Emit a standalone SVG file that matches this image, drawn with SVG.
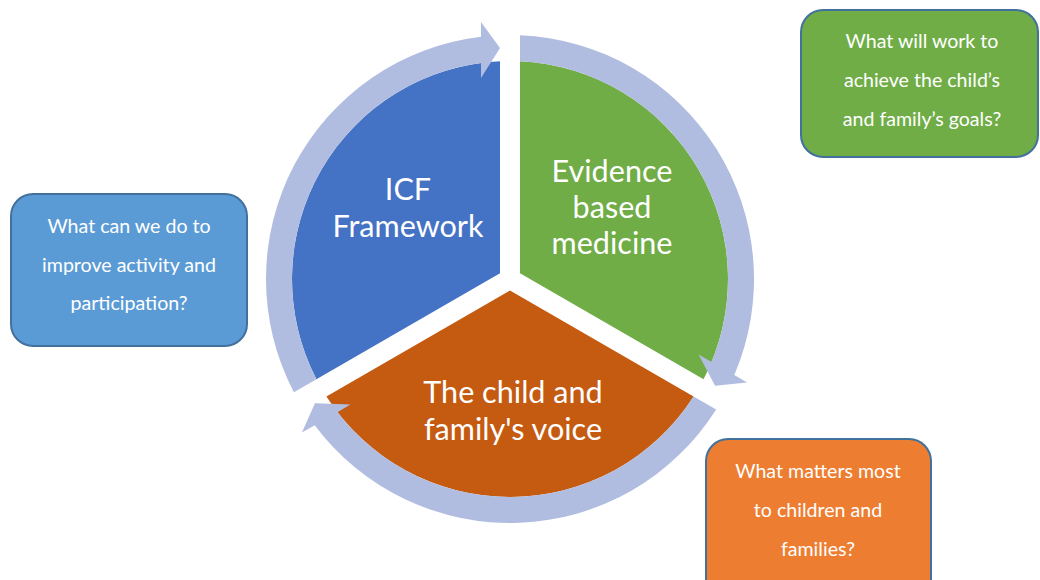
<svg xmlns="http://www.w3.org/2000/svg" width="1040" height="580" viewBox="0 0 1040 580">
<style>
.sec-t{font-family:Lato,"Open Sans",sans-serif;font-size:30.6px;fill:#fff;text-anchor:middle}
.box-t{font-family:Lato,"Open Sans",sans-serif;font-size:19.6px;fill:#fff;text-anchor:middle}
.ring{fill:#B1BDE0}
.box{stroke:#41719C;stroke-width:2}
</style>
<rect width="1040" height="580" fill="#fff"/>
<g id="icf">
<path d="M 500 273.23 L 500 61.23 A 218 218 0 0 0 316.41 379.22 Z" fill="#4472C4"/>
<text class="sec-t" x="408" y="200">ICF</text>
<text class="sec-t" x="408" y="237">Framework</text>
</g>
<g id="ebm">
<path d="M 520 273.23 L 520 61.23 A 218 218 0 0 1 703.59 379.22 Z" fill="#70AD47"/>
<text class="sec-t" x="612" y="182">Evidence</text>
<text class="sec-t" x="612" y="218">based</text>
<text class="sec-t" x="612" y="254">medicine</text>
</g>
<g id="voice">
<path d="M 510 290.55 L 693.59 396.55 A 218 218 0 0 1 326.41 396.55 Z" fill="#C55A11"/>
<text class="sec-t" x="513" y="403">The child and</text>
<text class="sec-t" x="513" y="440">family's voice</text>
</g>
<g id="connectors">
<path class="ring" d="M 293.88 392.24 A 244 244 0 0 1 481 36.73 L 481 22 L 500 48 L 481 78 L 481 62.94 A 218 218 0 0 0 316.41 379.22 Z"/>
<path class="ring" d="M 520 35.21 A 244 244 0 0 1 734.31 375.03 L 747.06 382.39 L 715.05 385.84 L 698.57 354.39 L 711.61 361.92 A 218 218 0 0 0 520 61.24 Z"/>
<path class="ring" d="M 716.13 409.54 A 244 244 0 0 1 314.69 425.25 L 301.94 432.61 L 314.95 403.16 L 350.43 404.61 L 337.39 412.14 A 218 218 0 0 0 693.59 396.54 Z"/>
</g>
<g id="q-activity">
<rect class="box" x="11" y="194" width="236" height="152" rx="22" fill="#5B9BD5"/>
<text class="box-t" x="129" y="233">What can we do to</text>
<text class="box-t" x="129" y="272">improve activity and</text>
<text class="box-t" x="129" y="310">participation?</text>
</g>
<g id="q-goals">
<rect class="box" x="801" y="10" width="237" height="147" rx="22" fill="#70AD47"/>
<text class="box-t" x="922" y="48">What will work to</text>
<text class="box-t" x="922" y="87">achieve the child’s</text>
<text class="box-t" x="922" y="126">and family’s goals?</text>
</g>
<g id="q-matters">
<rect class="box" x="706" y="439" width="225" height="170" rx="22" fill="#ED7D31"/>
<text class="box-t" x="818" y="478">What matters most</text>
<text class="box-t" x="818" y="517">to children and</text>
<text class="box-t" x="818" y="556">families?</text>
</g>
</svg>
